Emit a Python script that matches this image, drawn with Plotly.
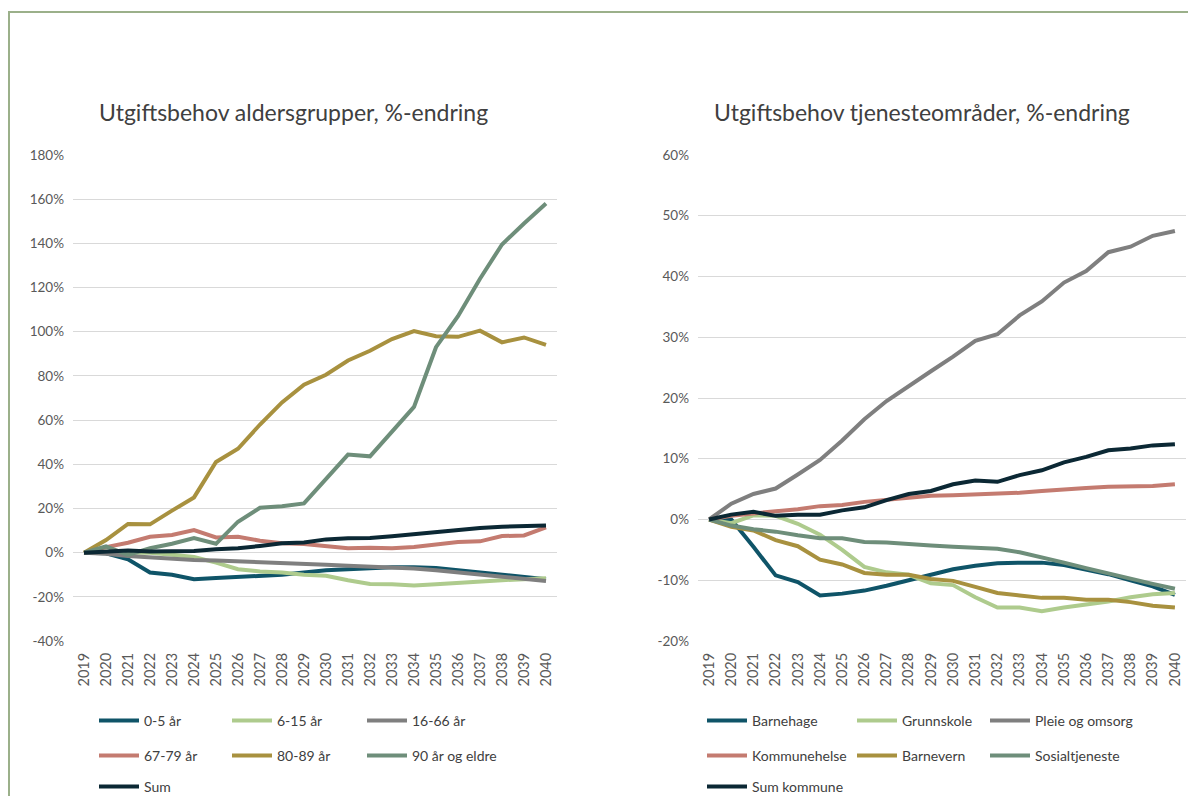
import plotly.graph_objects as go

years = [str(y) for y in range(2019, 2041)]

# Left chart: Utgiftsbehov aldersgrupper (% change)
age_names = ["0-5 år", "6-15 år", "16-66 år", "67-79 år", "80-89 år", "90 år og eldre", "Sum"]
age_0_5 = [0, -0.3, -3, -9, -10, -12, -11.5, -11, -10.5, -10, -9, -8, -7.5, -7, -6.6, -6.6, -7, -8, -9, -10, -11, -12]
age_6_15 = [0, 0.5, 0, 0, -1, -2, -4.5, -7.5, -8.5, -9, -10, -10.5, -12.5, -14.2, -14.3, -14.9, -14.3, -13.6, -13, -12.5, -12, -11.6]
age_16_66 = [0, -0.5, -1.5, -2.2, -2.8, -3.3, -3.6, -3.9, -4.3, -4.7, -5.1, -5.5, -5.9, -6.3, -6.7, -7.2, -8, -9, -10, -11, -12, -12.8]
age_67_79 = [0, 2.5, 4.5, 7.2, 8, 10.2, 6.9, 7.2, 5.4, 4.2, 3.9, 3, 2, 2.2, 2, 2.5, 3.5, 4.8, 5.1, 7.5, 7.8, 11.4]
age_80_89 = [0, 5.7, 13, 12.8, 19, 25, 41, 47, 58, 68, 76, 80.5, 87, 91.4, 96.7, 100.3, 98, 97.7, 100.5, 95.2, 97.4, 94]
age_90 = [0, 2.8, -1, 2, 4, 6.6, 4, 14, 20.3, 21, 22.3, 33.5, 44.4, 43.6, 55, 66, 93, 107, 124, 139.5, 149, 158]
age_sum = [0, 0.5, 1, 0.5, 0.5, 0.7, 1.5, 2, 3, 4.2, 4.6, 6, 6.5, 6.6, 7.4, 8.3, 9.5, 10.3, 11.2, 11.7, 12.1, 12.3]
age_series = [age_0_5, age_6_15, age_16_66, age_67_79, age_80_89, age_90, age_sum]

# Right chart: Utgiftsbehov tjenesteområder (% change)
svc_names = ["Barnehage", "Grunnskole", "Pleie og omsorg", "Kommunehelse", "Barnevern", "Sosialtjeneste", "Sum kommune"]
svc_barnehage = [0, 0, -4.5, -9.2, -10.3, -12.5, -12.2, -11.7, -10.9, -10, -9.2, -8.2, -7.6, -7.2, -7.1, -7.1, -7.5, -8.2, -9, -10, -11, -12.4]
svc_grunnskole = [0, -0.6, 0.7, 0.6, -0.7, -2.5, -5, -7.8, -8.7, -9.1, -10.5, -10.8, -12.8, -14.5, -14.5, -15.1, -14.5, -14, -13.5, -12.8, -12.3, -12.1]
svc_pleie = [0, 2.6, 4.2, 5.1, 7.4, 9.8, 13, 16.5, 19.5, 22, 24.4, 26.8, 29.4, 30.5, 33.6, 35.9, 39, 40.9, 44, 44.9, 46.7, 47.5]
svc_helse = [0, 0.6, 1.0, 1.3, 1.7, 2.2, 2.4, 2.9, 3.2, 3.6, 3.9, 4.0, 4.1, 4.2, 4.4, 4.7, 5.0, 5.2, 5.4, 5.5, 5.5, 5.8]
svc_barnevern = [0, -1.2, -1.8, -3.4, -4.4, -6.6, -7.4, -8.8, -9.1, -9.1, -9.8, -10.1, -11.1, -12.1, -12.5, -12.9, -12.9, -13.2, -13.2, -13.6, -14.2, -14.5]
svc_sosial = [0, -1.0, -1.6, -2.0, -2.6, -3.1, -3.1, -3.7, -3.8, -4.1, -4.3, -4.5, -4.7, -4.8, -5.4, -6.2, -7.1, -8.0, -8.9, -9.8, -10.6, -11.4]
svc_sum = [0, 0.8, 1.27, 0.6, 0.8, 0.8, 1.5, 2, 3.2, 4.2, 4.7, 5.8, 6.4, 6.2, 7.3, 8.1, 9.4, 10.3, 11.4, 11.7, 12.2, 12.4]
svc_series = [svc_barnehage, svc_grunnskole, svc_pleie, svc_helse, svc_barnevern, svc_sosial, svc_sum]

left_yticks = [-40, -20, 0, 20, 40, 60, 80, 100, 120, 140, 160, 180]
left_yticklabels = [f"{v}%" for v in left_yticks]
right_yticks = [-20, -10, 0, 10, 20, 30, 40, 50, 60]
right_yticklabels = [f"{v}%" for v in right_yticks]

titles = ["Utgiftsbehov aldersgrupper, %-endring", "Utgiftsbehov tjenesteområder, %-endring"]

colors = ["#0F5468", "#AECB8D", "#7F7F7F", "#C47B70", "#A8913F", "#6E8E7A", "#0B2834"]

# The page body has an 8px margin; the figure fills the rest of the window.
OFF = 8
W, H = 1196 - OFF, 796 - OFF
FONT = "Lato, 'Open Sans', sans-serif"
TXT = "#404040"

def px_x(p):
    return (p - OFF) / W

def px_y(p):
    return 1 - (p - OFF) / H

fig = go.Figure()

# legend positions (screen px): line start of each column and row centers
left_cols = [99, 232, 367]
right_cols = [707, 857, 990]
rows = [721, 756, 787]

legend_layouts = {}
lg = 1
for chart, (names, series, cols, xa, ya) in enumerate([
    (age_names, age_series, left_cols, "x", "y"),
    (svc_names, svc_series, right_cols, "x2", "y2"),
]):
    for i, (name, vals) in enumerate(zip(names, series)):
        key = "legend" if lg == 1 else f"legend{lg}"
        fig.add_trace(go.Scatter(
            x=years, y=vals, name=name, mode="lines",
            line=dict(color=colors[i], width=4),
            xaxis=xa, yaxis=ya, legend=key, showlegend=True,
        ))
        r, c = divmod(i, 3)
        legend_layouts[key] = dict(
            x=px_x(cols[c] - 5), y=px_y(rows[r]), xanchor="left", yanchor="middle",
            orientation="h", bgcolor="rgba(0,0,0,0)", borderwidth=0,
            font=dict(family=FONT, size=14, color=TXT),
            itemwidth=40, tracegroupgap=0,
        )
        lg += 1

axis_common = dict(zeroline=False, showline=False, ticks="", ticklabelstandoff=8)
xtick_font = dict(family=FONT, size=14.5, color="#595959")
ytick_font = dict(family=FONT, size=13.5, color="#595959")

fig.update_layout(
    width=W, height=H,
    margin=dict(l=0, r=0, t=0, b=0, autoexpand=False),
    paper_bgcolor="white", plot_bgcolor="white",
    showlegend=True,
    xaxis=dict(domain=[px_x(73), px_x(557)], anchor="y", type="category", showgrid=False,
               range=[-0.5, 21.5], tickangle=-90, tickfont=xtick_font, **axis_common),
    yaxis=dict(domain=[px_y(641), px_y(155)], anchor="x", range=[-40, 180],
               showgrid=True, gridcolor="#D9D9D9", gridwidth=1, tickfont=ytick_font,
               tickvals=left_yticks, ticktext=left_yticklabels, **axis_common),
    xaxis2=dict(domain=[px_x(698), px_x(1186)], anchor="y2", type="category", showgrid=False,
                range=[-0.5, 21.5], tickangle=-90, tickfont=xtick_font, **axis_common),
    yaxis2=dict(domain=[px_y(641), px_y(155)], anchor="x2", range=[-20, 60],
                showgrid=True, gridcolor="#D9D9D9", gridwidth=1, tickfont=ytick_font,
                tickvals=right_yticks, ticktext=right_yticklabels, **axis_common),
    shapes=[dict(type="rect", xref="paper", yref="paper",
                 x0=px_x(9), x1=px_x(1210), y0=px_y(812), y1=px_y(12),
                 line=dict(color="#9BB08A", width=2), fillcolor="rgba(0,0,0,0)", layer="below")],
    annotations=[
        dict(text=titles[0], x=px_x(293), y=px_y(112), xref="paper", yref="paper",
             showarrow=False, xanchor="center", yanchor="middle",
             font=dict(family=FONT, size=23, color=TXT)),
        dict(text=titles[1], x=px_x(922), y=px_y(112), xref="paper", yref="paper",
             showarrow=False, xanchor="center", yanchor="middle",
             font=dict(family=FONT, size=23, color=TXT)),
    ],
    **legend_layouts,
)

fig.write_html("out.html")
